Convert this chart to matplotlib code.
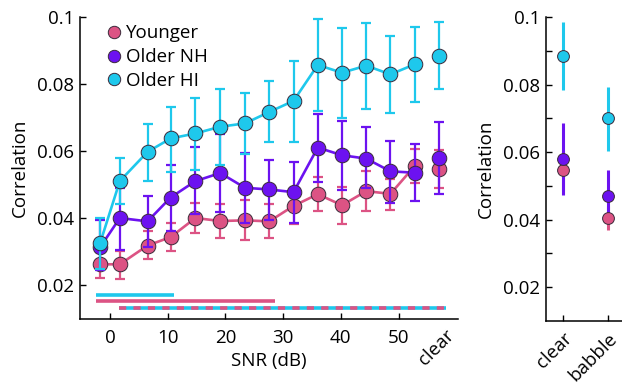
import matplotlib
matplotlib.use("Agg")
import matplotlib.pyplot as plt
import matplotlib.transforms as mtransforms

plt.rcParams['font.family'] = ['Open Sans', 'DejaVu Sans']

# SNR conditions (dB); "clear" is placed after the last SNR
snr = [-1.7, 1.7, 6.5, 10.5, 14.8, 19.1, 23.4, 27.6, 31.8, 36.0, 40.2, 44.4, 48.6, 52.8]
clear_x = 57.0

groups = ["Younger", "Older NH", "Older HI"]
colors = ["#dc5384", "#6c12f0", "#1ec8ec"]

younger = [0.0263, 0.0263, 0.0319, 0.0344, 0.0401, 0.0392, 0.0394, 0.0391, 0.0437, 0.0472, 0.0439, 0.0481, 0.0473, 0.0556]
younger_lo = [0.0222, 0.0218, 0.0278, 0.0302, 0.0356, 0.0342, 0.0334, 0.0341, 0.0384, 0.0421, 0.0384, 0.0421, 0.0424, 0.0504]
younger_hi = [0.0300, 0.0302, 0.0362, 0.0386, 0.0446, 0.0442, 0.0454, 0.0444, 0.0474, 0.0523, 0.0492, 0.0540, 0.0518, 0.0608]

older_nh = [0.0314, 0.0401, 0.0391, 0.0462, 0.0511, 0.0535, 0.0491, 0.0486, 0.0478, 0.0611, 0.0588, 0.0578, 0.0540, 0.0536]
older_nh_lo = [0.0245, 0.0307, 0.0314, 0.0361, 0.0414, 0.0419, 0.0386, 0.0396, 0.0386, 0.0508, 0.0484, 0.0489, 0.0446, 0.0452]
older_nh_hi = [0.0396, 0.0490, 0.0467, 0.0558, 0.0613, 0.0651, 0.0595, 0.0573, 0.0568, 0.0710, 0.0690, 0.0673, 0.0631, 0.0621]

older_hi = [0.0327, 0.0511, 0.0598, 0.0638, 0.0653, 0.0673, 0.0683, 0.0717, 0.0750, 0.0857, 0.0834, 0.0855, 0.0829, 0.0859]
older_hi_lo = [0.0250, 0.0444, 0.0510, 0.0538, 0.0543, 0.0558, 0.0591, 0.0628, 0.0628, 0.0720, 0.0699, 0.0727, 0.0713, 0.0747]
older_hi_hi = [0.0402, 0.0581, 0.0681, 0.0732, 0.0760, 0.0784, 0.0774, 0.0810, 0.0870, 0.0995, 0.0966, 0.0981, 0.0943, 0.0969]

# clear speech (left panel end point and right panel)
clear_mean = [0.0546, 0.0580, 0.0885]
clear_lo = [0.0489, 0.0472, 0.0785]
clear_hi = [0.0603, 0.0686, 0.0984]

babble_mean = [0.0405, 0.0470, 0.0700]
babble_lo = [0.0370, 0.0410, 0.0604]
babble_hi = [0.0440, 0.0548, 0.0793]

# significance bars (x start, x end, y)
sig_hi = [-2.5, 11.1, 0.0173]
sig_young = [-2.5, 28.6, 0.0155]
sig_both = [1.6, 58.2, 0.0134]

FS = 13.5
W, H = 622, 388
fig = plt.figure(figsize=(W / 100, H / 100), dpi=100)
ax = fig.add_axes([80 / W, 1 - 319 / H, 378 / W, 302 / H])
ax2 = fig.add_axes([545.7 / W, 1 - 321 / H, (W - 545.7) / W, 304 / H])

series = [(younger, younger_lo, younger_hi), (older_nh, older_nh_lo, older_nh_hi),
          (older_hi, older_hi_lo, older_hi_hi)]

for i, (m, lo, hi) in enumerate(series):
    c = colors[i]
    z = 3 + i
    yerr = [[a - b for a, b in zip(m, lo)], [b - a for a, b in zip(m, hi)]]
    ax.errorbar(snr, m, yerr=yerr, fmt='none', ecolor=c, elinewidth=1.6,
                capsize=3.5, capthick=1.6, zorder=z)
    ax.plot(snr, m, '-', color=c, lw=1.9, zorder=z)
    ax.plot(snr, m, 'o', ms=10.5, mfc=c, mec='#3a2a3a', mew=0.7, zorder=z + 0.5, label=groups[i])
    # clear point
    ax.errorbar([clear_x], [clear_mean[i]], yerr=[[clear_mean[i] - clear_lo[i]], [clear_hi[i] - clear_mean[i]]],
                fmt='none', ecolor=c, elinewidth=1.6, capsize=3.5, capthick=1.6, zorder=z)
    ax.plot([clear_x], [clear_mean[i]], 'o', ms=10.5, mfc=c, mec='#3a2a3a', mew=0.7, zorder=z + 0.5)

# significance lines
ax.plot(sig_hi[:2], [sig_hi[2]] * 2, color=colors[2], lw=2.6, solid_capstyle='butt')
ax.plot(sig_young[:2], [sig_young[2]] * 2, color=colors[0], lw=2.6, solid_capstyle='butt')
ax.plot(sig_both[:2], [sig_both[2]] * 2, color=colors[2], lw=2.6, solid_capstyle='butt')
ax.plot(sig_both[:2], [sig_both[2]] * 2, color=colors[0], lw=2.6, ls=(0, (2, 2)), dash_capstyle='butt')

ax.set_xlim(-5.2, 60.3)
ax.set_ylim(0.01, 0.1)
ax.set_xticks([0, 10, 20, 30, 40, 50])
ax.set_yticks([0.02, 0.04, 0.06, 0.08, 0.1])
ax.set_yticklabels(['0.02', '0.04', '0.06', '0.08', '0.1'])
ax.tick_params(direction='in', length=4, width=1, labelsize=FS)
ax.tick_params(axis='x', pad=7)
ax.tick_params(axis='y', pad=4)
ax.text(clear_x + 1.0, -0.025, 'clear', transform=mtransforms.blended_transform_factory(ax.transData, ax.transAxes),
        rotation=45, ha='right', va='top', rotation_mode='anchor', fontsize=FS)
for s in ['top', 'right']:
    ax.spines[s].set_visible(False)
for s in ['left', 'bottom']:
    ax.spines[s].set_linewidth(1.1)
ax.set_xlabel('SNR (dB)', fontsize=FS, labelpad=4)
ax.set_ylabel('Correlation', fontsize=FS, labelpad=6)

leg = ax.legend(loc='upper left', frameon=False, fontsize=FS, handletextpad=0.05,
                borderaxespad=0.0, bbox_to_anchor=(0.04, 1.0), labelspacing=0.3,
                markerscale=0.85, handlelength=1.2)

# right panel: clear vs babble
for i in range(3):
    c = colors[i]
    m = [clear_mean[i], babble_mean[i]]
    yerr = [[clear_mean[i] - clear_lo[i], babble_mean[i] - babble_lo[i]],
            [clear_hi[i] - clear_mean[i], babble_hi[i] - babble_mean[i]]]
    ax2.errorbar([1, 2], m, yerr=yerr, fmt='none', ecolor=c, elinewidth=2.2, capsize=0, zorder=3 + i)
for i in range(3):
    c = colors[i]
    ax2.plot([1, 2], [clear_mean[i], babble_mean[i]], 'o', ms=8.5, mfc=c, mec='#3a2a3a', mew=0.7, zorder=7 + i)

ax2.set_xlim(0.6, 2.32)
ax2.set_ylim(0.01, 0.1)
ax2.set_xticks([1, 2])
ax2.set_xticklabels(['clear', 'babble'], rotation=45, ha='right', rotation_mode='anchor')
ax2.set_yticks([0.02, 0.04, 0.06, 0.08, 0.1])
ax2.set_yticklabels(['0.02', '0.04', '0.06', '0.08', '0.1'])
ax2.set_yticks([0.03, 0.05, 0.07, 0.09], minor=True)
ax2.tick_params(direction='in', length=4, width=1, labelsize=FS, pad=4)
ax2.tick_params(axis='x', pad=6)
ax2.tick_params(which='minor', direction='in', length=4, width=1)
for s in ['top', 'right']:
    ax2.spines[s].set_visible(False)
for s in ['left', 'bottom']:
    ax2.spines[s].set_linewidth(1.1)
ax2.set_ylabel('Correlation', fontsize=FS, labelpad=6)

fig.savefig('out.png', dpi=100)
